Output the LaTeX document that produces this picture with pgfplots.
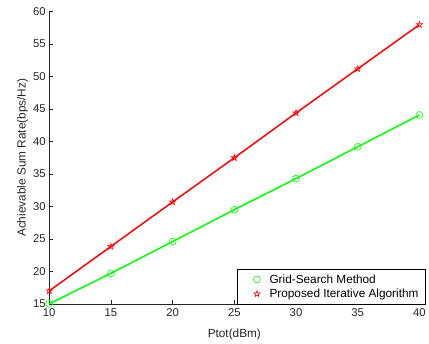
\documentclass[border=0pt]{standalone}
\usepackage{pgfplots}
\pgfplotsset{compat=1.18}
\usepackage{fontspec}
\setmainfont{Liberation Sans}
\usetikzlibrary{plotmarks}
\pgfdeclareplotmark{pentagram}{%
  \pgfpathmoveto{\pgfpointpolar{90}{\pgfplotmarksize}}%
  \pgfpathlineto{\pgfpointpolar{126}{0.382\pgfplotmarksize}}%
  \pgfpathlineto{\pgfpointpolar{162}{\pgfplotmarksize}}%
  \pgfpathlineto{\pgfpointpolar{198}{0.382\pgfplotmarksize}}%
  \pgfpathlineto{\pgfpointpolar{234}{\pgfplotmarksize}}%
  \pgfpathlineto{\pgfpointpolar{270}{0.382\pgfplotmarksize}}%
  \pgfpathlineto{\pgfpointpolar{306}{\pgfplotmarksize}}%
  \pgfpathlineto{\pgfpointpolar{342}{0.382\pgfplotmarksize}}%
  \pgfpathlineto{\pgfpointpolar{18}{\pgfplotmarksize}}%
  \pgfpathlineto{\pgfpointpolar{54}{0.382\pgfplotmarksize}}%
  \pgfpathclose\pgfusepathqstroke}
\definecolor{mgreen}{RGB}{0,255,0}
\definecolor{mred}{RGB}{255,0,0}
\definecolor{axgray}{RGB}{38,38,38}
\begin{document}
\begin{tikzpicture}[x=1bp,y=1bp]
\begin{axis}[
  scale only axis,
  width=375bp, height=296bp,
  xmin=10, xmax=40, ymin=15, ymax=60,
  xtick={10,15,...,40}, ytick={15,20,...,60},
  axis lines=left,
  axis line style={-, axgray, line width=0.5bp},
  tick style={axgray, line width=0.5bp},
  tick align=inside,
  major tick length=4bp,
  font=\fontsize{12}{14}\selectfont,
  tick label style={font=\fontsize{11.5}{13}\selectfont, text=axgray},
  /pgf/number format/assume math mode=true,
  xticklabel style={yshift=-1bp},
  xlabel={Ptot(dBm)},
  ylabel={Achievable Sum Rate(bps/Hz)},
  label style={font=\fontsize{12}{14}\selectfont, text=axgray},
  xlabel style={at={(axis description cs:0.5,0)}, anchor=north, yshift=-22bp},
  ylabel style={at={(axis description cs:0,0.5)}, anchor=south, yshift=18bp},
  clip=false,
  legend style={at={(1.016,0.0)}, anchor=south east, draw=black, line width=0.6bp,
    font=\fontsize{12}{14}\selectfont, cells={anchor=west}, row sep=0.5bp,
    inner xsep=5bp, inner ysep=3bp, outer sep=0pt},
  legend image code/.code={\draw[#1, line width=0.5bp] plot[only marks] coordinates {(14bp,0)};\path (0,0) (24bp,0);},
]
\addplot[mgreen, line width=1.5bp, mark=o, mark size=3.5bp, mark options={line width=0.6bp}]
  coordinates {(10,15.0) (15,19.7) (20,24.6) (25,29.5) (30,34.3) (35,39.2) (40,44.1)};
\addlegendentry{Grid-Search Method}
\addplot[mred, line width=1.5bp, mark=pentagram, mark size=3.3bp, mark options={line width=0.6bp}]
  coordinates {(10,17.0) (15,23.85) (20,30.7) (25,37.5) (30,44.4) (35,51.2) (40,58.0)};
\addlegendentry{Proposed Iterative Algorithm}
\path (rel axis cs:-0.133,-0.135) rectangle (rel axis cs:1.02,1.04);
\end{axis}
\end{tikzpicture}
\end{document}
